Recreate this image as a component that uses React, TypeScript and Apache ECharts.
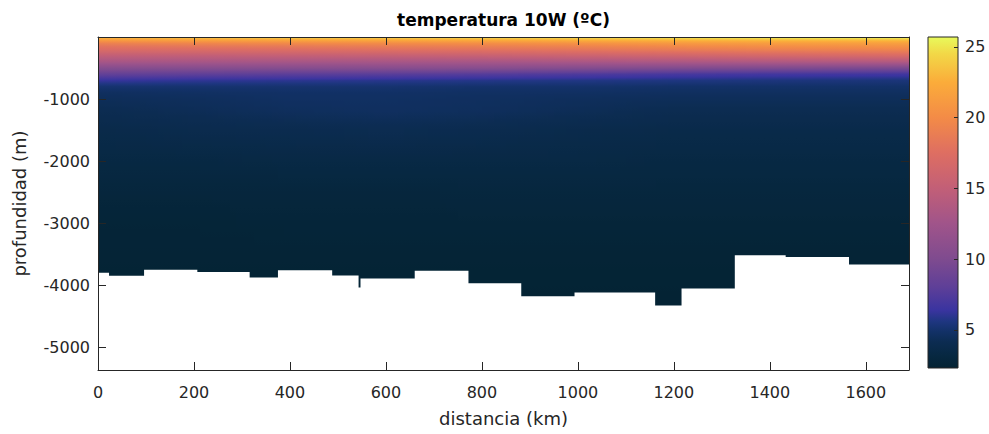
import React, { useEffect, useRef } from "react";
import * as echarts from "echarts";

// ---- data ----
const distances = [0, 200, 400, 600, 800, 1000, 1200, 1400, 1690]; // km
const depths = [0, 25, 50, 100, 150, 200, 300, 400, 500, 600, 700, 800, 900, 1000, 1200, 1500, 2000, 2500, 3000, 3500, 4000, 4500]; // m
// temperature[depthIndex][distanceIndex] (ºC)
const temperature = [
  [23.2, 23.8, 24.2, 24.2, 24.6, 24.8, 25.0, 25.3, 25.4],
  [22.4, 22.9, 23.3, 23.4, 23.7, 23.9, 24.3, 24.6, 24.8],
  [21.2, 21.7, 22.0, 22.2, 22.4, 22.7, 23.0, 23.2, 23.3],
  [19.2, 19.6, 19.9, 20.1, 20.3, 20.6, 21.1, 21.4, 21.6],
  [18.0, 18.3, 18.5, 18.8, 19.0, 19.3, 19.8, 20.2, 20.5],
  [17.2, 17.3, 17.5, 17.8, 18.0, 18.3, 18.8, 19.2, 19.5],
  [15.0, 15.0, 15.2, 15.3, 15.5, 15.8, 16.2, 16.6, 17.0],
  [13.0, 13.0, 13.0, 13.0, 13.0, 13.2, 13.4, 13.6, 13.8],
  [10.5, 10.5, 10.5, 10.6, 10.6, 10.4, 10.2, 10.0, 9.8],
  [8.3, 8.1, 7.9, 7.8, 7.6, 7.3, 7.0, 6.8, 6.7],
  [6.3, 6.1, 6.0, 5.9, 5.8, 5.7, 5.6, 5.5, 5.4],
  [5.1, 5.1, 5.1, 5.1, 5.0, 5.0, 4.9, 4.9, 4.9],
  [4.6, 4.7, 4.8, 4.8, 4.7, 4.7, 4.6, 4.6, 4.6],
  [4.4, 4.5, 4.7, 4.7, 4.6, 4.5, 4.4, 4.4, 4.4],
  [4.1, 4.3, 4.5, 4.6, 4.5, 4.3, 4.1, 4.1, 4.1],
  [3.7, 3.9, 4.0, 4.1, 4.0, 3.8, 3.7, 3.7, 3.7],
  [3.3, 3.3, 3.4, 3.4, 3.4, 3.4, 3.3, 3.3, 3.3],
  [2.9, 2.9, 2.9, 2.9, 3.0, 3.0, 3.0, 3.0, 3.0],
  [2.6, 2.6, 2.7, 2.7, 2.7, 2.7, 2.7, 2.7, 2.7],
  [2.5, 2.5, 2.5, 2.5, 2.5, 2.5, 2.5, 2.5, 2.5],
  [2.4, 2.4, 2.4, 2.4, 2.4, 2.4, 2.4, 2.4, 2.4],
  [2.35, 2.35, 2.35, 2.35, 2.35, 2.35, 2.35, 2.35, 2.35],
];
// sea floor: step segments between edges (km) with a depth (m)
const bottomEdges = [0, 23, 96, 207, 316, 375, 488, 543, 547, 660, 772, 882, 993, 1161, 1216, 1327, 1433, 1565, 1690];
const bottomDepths = [-3800, -3850, -3755, -3790, -3880, -3760, -3845, -4040, -3895, -3770, -3970, -4180, -4120, -4330, -4055, -3520, -3548, -3670];

const cbMin = 2.3;
const cbMax = 25.7;
const xMax = 1690;
const yMin = -5370;

// thermal-like colormap (fraction, colour)
const cmap: [number, string][] = [
  [0.0, "#042333"],
  [0.04, "#072842"],
  [0.08, "#0c2c52"],
  [0.11, "#123167"],
  [0.14, "#1e3680"],
  [0.175, "#3a34a0"],
  [0.244, "#5e3f98"],
  [0.33, "#7f4b8f"],
  [0.436, "#a0548a"],
  [0.543, "#c25f77"],
  [0.65, "#de6e62"],
  [0.756, "#f38b47"],
  [0.863, "#fbac3a"],
  [0.95, "#f2d847"],
  [1.0, "#e8fa5b"],
];

const FONT = "'DejaVu Sans', sans-serif";
const TXT = "#262626";

function hexToRgb(h: string): number[] {
  const n = parseInt(h.slice(1), 16);
  return [(n >> 16) & 255, (n >> 8) & 255, n & 255];
}
const cmapRgb = cmap.map(([f, c]) => ({ f, c: hexToRgb(c) }));

function colorAt(t: number): string {
  let f = (t - cbMin) / (cbMax - cbMin);
  f = Math.max(0, Math.min(1, f));
  for (let k = 0; k < cmapRgb.length - 1; k++) {
    const a = cmapRgb[k];
    const b = cmapRgb[k + 1];
    if (f <= b.f) {
      const g = (f - a.f) / (b.f - a.f || 1);
      const r = Math.round(a.c[0] + (b.c[0] - a.c[0]) * g);
      const gg = Math.round(a.c[1] + (b.c[1] - a.c[1]) * g);
      const bb = Math.round(a.c[2] + (b.c[2] - a.c[2]) * g);
      return `rgb(${r},${gg},${bb})`;
    }
  }
  const l = cmapRgb[cmapRgb.length - 1].c;
  return `rgb(${l[0]},${l[1]},${l[2]})`;
}

export default function App() {
  const ref = useRef<HTMLDivElement>(null);
  useEffect(() => {
    if (!ref.current) return;
    const chart = echarts.init(ref.current, undefined, { renderer: "svg" });
    const maxDepth = depths[depths.length - 1];

    const fieldData = distances.slice(0, -1).map((d, i) => [d, distances[i + 1], 0, -maxDepth]);

    const bottomData: number[][] = [];
    bottomDepths.forEach((dep, k) => {
      bottomData.push([bottomEdges[k], dep]);
      bottomData.push([bottomEdges[k + 1], dep]);
    });

    const axisLine = { show: true, onZero: false, lineStyle: { color: TXT, width: 1 } };
    const tickStyle = { color: TXT, width: 1 };
    const labelStyle = {
      fontFamily: FONT,
      fontSize: 16,
      color: TXT,
      showMinLabel: false,
      showMaxLabel: false,
      formatter: (v: number) => String(v),
    };

    const option: any = {
      animation: false,
      backgroundColor: "#ffffff",
      graphic: [
        {
          type: "text",
          x: 503.5,
          y: 19.5,
          style: {
            text: "temperatura 10W (ºC)",
            fontFamily: FONT,
            fontSize: 17,
            fontWeight: "bold",
            fill: "#000000",
            align: "center",
            verticalAlign: "middle",
          },
        },
      ],
      grid: [
        { left: 98, right: 80, top: 37, bottom: 64 },
        { left: 928, right: 31, top: 37, bottom: 66 },
      ],
      xAxis: [
        {
          type: "value",
          gridIndex: 0,
          position: "bottom",
          min: 0,
          max: xMax,
          interval: 200,
          z: 10,
          axisLine,
          axisTick: { show: true, inside: true, length: 8, lineStyle: tickStyle },
          axisLabel: { ...labelStyle, showMinLabel: true, margin: 14 },
          splitLine: { show: false },
          name: "distancia (km)",
          nameLocation: "middle",
          nameGap: 39,
          nameTextStyle: { fontFamily: FONT, fontSize: 18, color: TXT },
        },
        {
          type: "value",
          gridIndex: 0,
          position: "top",
          min: 0,
          max: xMax,
          interval: 200,
          z: 10,
          axisLine,
          axisTick: { show: true, inside: true, length: 8, lineStyle: tickStyle },
          axisLabel: { show: false },
          splitLine: { show: false },
        },
        {
          type: "value",
          gridIndex: 1,
          min: 0,
          max: 1,
          show: false,
        },
      ],
      yAxis: [
        {
          type: "value",
          gridIndex: 0,
          position: "left",
          min: yMin,
          max: 0,
          splitNumber: 5,
          z: 10,
          axisLine,
          axisTick: { show: true, inside: true, length: 8, lineStyle: tickStyle },
          axisLabel: { ...labelStyle, margin: 8 },
          splitLine: { show: false },
          name: "profundidad (m)",
          nameLocation: "middle",
          nameGap: 70,
          nameRotate: 90,
          nameTextStyle: { fontFamily: FONT, fontSize: 18, color: TXT },
        },
        {
          type: "value",
          gridIndex: 0,
          position: "right",
          min: yMin,
          max: 0,
          splitNumber: 5,
          z: 10,
          axisLine,
          axisTick: { show: true, inside: true, length: 8, lineStyle: tickStyle },
          axisLabel: { show: false },
          splitLine: { show: false },
        },
        {
          type: "value",
          gridIndex: 1,
          position: "right",
          min: cbMin,
          max: cbMax,
          splitNumber: 5,
          z: 10,
          axisLine: { show: false, onZero: false },
          axisTick: { show: true, inside: true, length: 4, lineStyle: tickStyle },
          axisLabel: { ...labelStyle, margin: 7 },
          splitLine: { show: false },
        },
      ],
      series: [
        {
          type: "custom",
          xAxisIndex: 0,
          yAxisIndex: 0,
          clip: true,
          silent: true,
          z: 1,
          encode: { x: [0, 1], y: [2, 3] },
          data: fieldData,
          renderItem: (params: any, api: any) => {
            const i = params.dataIndex;
            const x0 = api.value(0);
            const x1 = api.value(1);
            const yTop = api.coord([x0, 0])[1];
            const yBot = api.coord([x0, -maxDepth])[1];
            const nSub = 16;
            const children: any[] = [];
            for (let s = 0; s < nSub; s++) {
              const fa = s / nSub;
              const fb = (s + 1) / nSub;
              const fm = (s + 0.5) / nSub;
              const px0 = Math.round(api.coord([x0 + (x1 - x0) * fa, 0])[0]);
              const px1 = Math.round(api.coord([x0 + (x1 - x0) * fb, 0])[0]);
              const stops: any[] = [];
              for (let j = 0; j < depths.length - 1; j++) {
                const ta = temperature[j][i] * (1 - fm) + temperature[j][i + 1] * fm;
                const tb = temperature[j + 1][i] * (1 - fm) + temperature[j + 1][i + 1] * fm;
                const nStep = 4;
                for (let k = 0; k < nStep; k++) {
                  const g = k / nStep;
                  const d = depths[j] + (depths[j + 1] - depths[j]) * g;
                  stops.push({ offset: d / maxDepth, color: colorAt(ta + (tb - ta) * g) });
                }
              }
              const jl = depths.length - 1;
              const tl = temperature[jl][i] * (1 - fm) + temperature[jl][i + 1] * fm;
              stops.push({ offset: 1, color: colorAt(tl) });
              children.push({
                type: "rect",
                shape: { x: px0, y: yTop, width: px1 - px0 + 1.5, height: yBot - yTop },
                style: { fill: new echarts.graphic.LinearGradient(0, 0, 0, 1, stops) },
              });
            }
            return { type: "group", children };
          },
        },
        {
          type: "line",
          xAxisIndex: 0,
          yAxisIndex: 0,
          z: 3,
          silent: true,
          symbol: "none",
          showSymbol: false,
          data: bottomData,
          lineStyle: { width: 0, color: "#ffffff" },
          areaStyle: { color: "#ffffff", opacity: 1, origin: "start" },
        },
        {
          type: "custom",
          xAxisIndex: 2,
          yAxisIndex: 2,
          silent: true,
          z: 2,
          encode: { x: [0, 2], y: [1, 3] },
          data: [[0, cbMin, 1, cbMax]],
          renderItem: (params: any, api: any) => {
            const p0 = api.coord([api.value(0), api.value(3)]);
            const p1 = api.coord([api.value(2), api.value(1)]);
            const stops = cmap
              .map(([f, c]) => ({ offset: 1 - f, color: c }))
              .sort((a, b) => a.offset - b.offset);
            return {
              type: "rect",
              shape: { x: p0[0], y: p0[1], width: p1[0] - p0[0], height: p1[1] - p0[1] },
              style: {
                fill: new echarts.graphic.LinearGradient(0, 0, 0, 1, stops),
                stroke: TXT,
                lineWidth: 1,
              },
            };
          },
        },
      ],
    };
    chart.setOption(option);
    return () => chart.dispose();
  }, []);
  return (
    <div
      ref={ref}
      style={{ position: "fixed", left: 0, top: 0, width: 989, height: 434, background: "#fff" }}
    />
  );
}
